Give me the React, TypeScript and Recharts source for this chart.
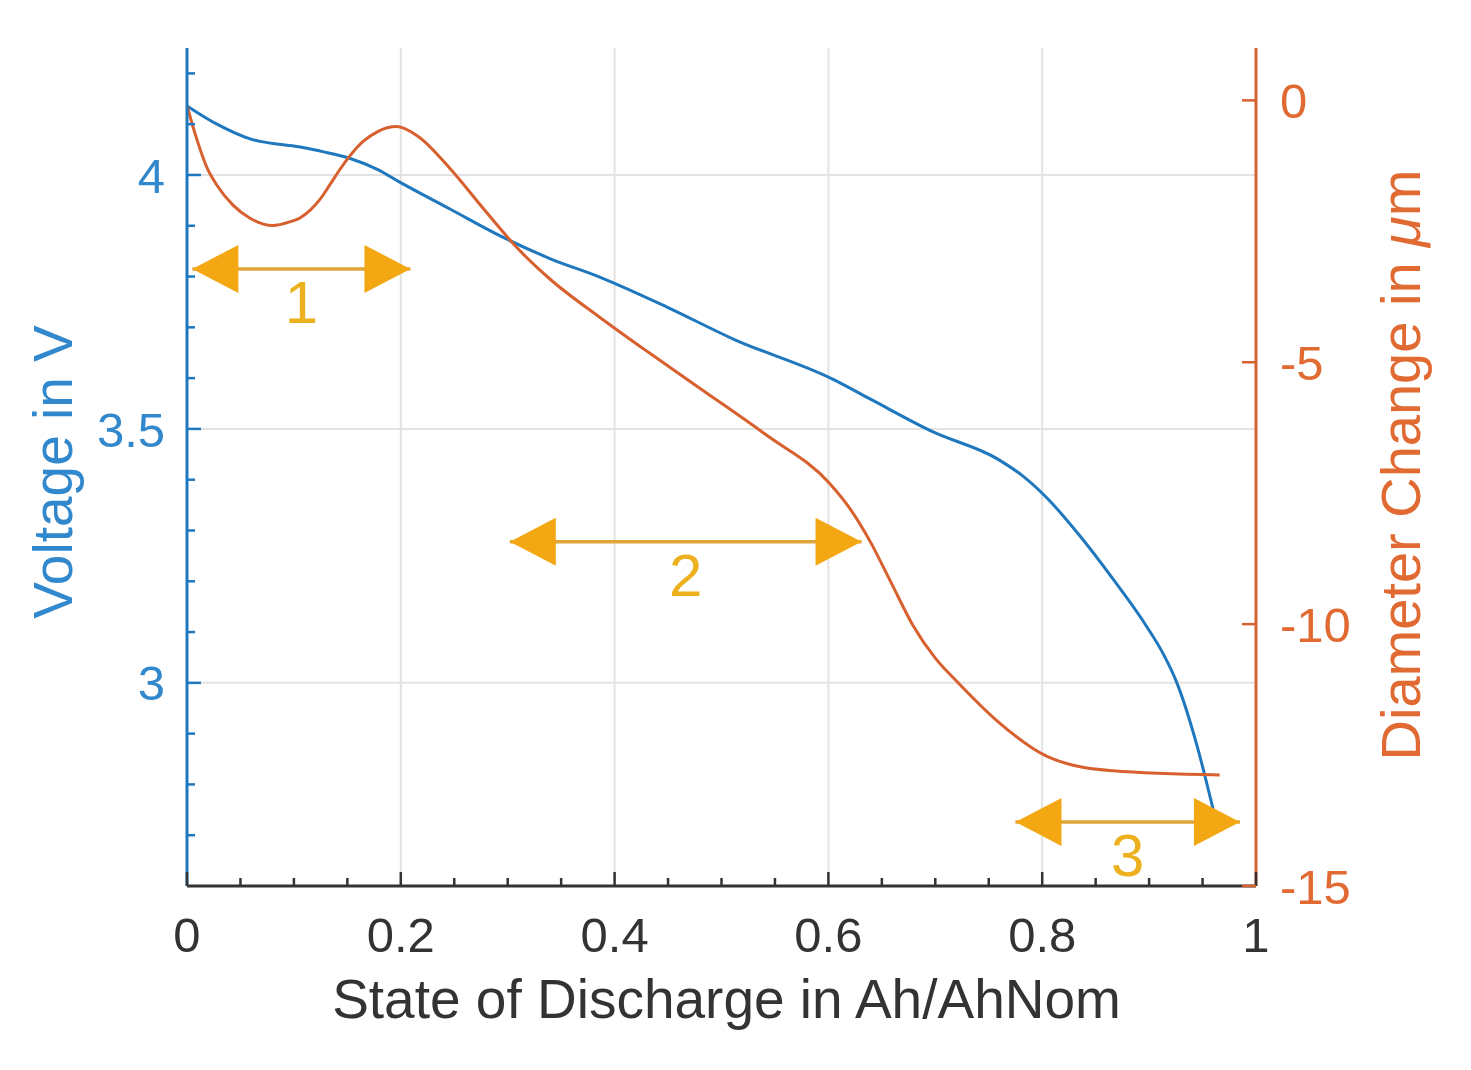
import React from 'react';
import { LineChart, Line, XAxis, YAxis, CartesianGrid, ReferenceLine, ReferenceDot, Label } from 'recharts';

// voltage curve (state of discharge -> V)
const sodVoltage = [0, 0.028, 0.059, 0.106, 0.127, 0.152, 0.178, 0.199, 0.246, 0.293, 0.34, 0.386, 0.449, 0.511, 0.604, 0.639, 0.698, 0.758, 0.782, 0.804, 0.835, 0.866, 0.898, 0.913, 0.926, 0.945, 0.96];
const voltage = [4.136, 4.1, 4.071, 4.055, 4.046, 4.033, 4.011, 3.986, 3.933, 3.88, 3.835, 3.799, 3.74, 3.677, 3.598, 3.559, 3.494, 3.441, 3.407, 3.365, 3.29, 3.205, 3.11, 3.058, 3.0, 2.875, 2.75];

// diameter change curve (state of discharge -> um)
const sodDiameter = [0, 0.009, 0.019, 0.028, 0.043, 0.059, 0.08, 0.096, 0.106, 0.115, 0.124, 0.134, 0.143, 0.152, 0.165, 0.178, 0.196, 0.215, 0.246, 0.277, 0.309, 0.34, 0.386, 0.433, 0.48, 0.542, 0.601, 0.62, 0.639, 0.658, 0.679, 0.7, 0.72, 0.758, 0.804, 0.83, 0.866, 0.966];
const diameter = [-0.1, -0.73, -1.3, -1.62, -2.0, -2.25, -2.39, -2.32, -2.24, -2.1, -1.9, -1.6, -1.32, -1.07, -0.78, -0.6, -0.5, -0.67, -1.3, -2.06, -2.82, -3.42, -4.14, -4.83, -5.5, -6.39, -7.31, -7.79, -8.42, -9.18, -10.02, -10.65, -11.09, -11.85, -12.52, -12.7, -12.8, -12.88];

const xMajorTicks = [0, 0.2, 0.4, 0.6, 0.8, 1];
const xMinorTicks = [0, 0.05, 0.1, 0.15, 0.2, 0.25, 0.3, 0.35, 0.4, 0.45, 0.5, 0.55, 0.6, 0.65, 0.7, 0.75, 0.8, 0.85, 0.9, 0.95, 1];
const vMajorTicks = [3, 3.5, 4];
const vMinorTicks = [2.7, 2.8, 2.9, 3, 3.1, 3.2, 3.3, 3.4, 3.5, 3.6, 3.7, 3.8, 3.9, 4, 4.1, 4.2];
const dTicks = [-15, -10, -5, 0];

// phase arrows
const arrowLabels = ['1', '2', '3'];
const arrowStart = [0.005, 0.302, 0.775];
const arrowEnd = [0.209, 0.631, 0.985];
const arrowLevel = [3.815, 3.278, 2.726];

const voltageData = sodVoltage.map((x, i) => ({ x, v: voltage[i] }));
const diameterData = sodDiameter.map((x, i) => ({ x, d: diameter[i] }));

const FONT = '"Liberation Sans", Arial, Helvetica, sans-serif';
const BLUE = '#1f78be';
const BLUE_TXT = '#3288cc';
const ORANGE = '#d8602f';
const ORANGE_TXT = '#e06a32';
const DARK = '#333333';
const ARROW = '#f3a712';

const BottomTick = ({ x, y, payload }: any) => {
  const major = xMajorTicks.includes(payload.value);
  return (
    <g>
      <line x1={x} x2={x} y1={y} y2={y - (major ? 14 : 8)} stroke={DARK} strokeWidth={2.5} />
      {major && (
        <text x={x} y={y + 66} textAnchor="middle" fontSize={49} fontFamily={FONT} fill={DARK}>
          {payload.value}
        </text>
      )}
    </g>
  );
};

const TopTick = ({ x, y, payload }: any) => {
  const major = xMajorTicks.includes(payload.value);
  return <line x1={x} x2={x} y1={y} y2={y + (major ? 14 : 8)} stroke={DARK} strokeWidth={2.5} />;
};

const LeftTick = ({ x, y, payload }: any) => {
  const major = vMajorTicks.includes(payload.value);
  return (
    <g>
      <line x1={x} x2={x + (major ? 14 : 8)} y1={y} y2={y} stroke={BLUE} strokeWidth={2.5} />
      {major && (
        <text x={x - 22} y={y} dy="0.36em" textAnchor="end" fontSize={49} fontFamily={FONT} fill={BLUE_TXT}>
          {payload.value}
        </text>
      )}
    </g>
  );
};

const RightTick = ({ x, y, payload }: any) => (
  <g>
    <line x1={x} x2={x - 14} y1={y} y2={y} stroke={ORANGE} strokeWidth={2.5} />
    <text x={x + 24} y={y} dy="0.36em" textAnchor="start" fontSize={49} fontFamily={FONT} fill={ORANGE_TXT}>
      {payload.value}
    </text>
  </g>
);

const headLeft = ({ cx, cy }: any) => (
  <polygon points={`${cx},${cy} ${cx + 46},${cy - 24} ${cx + 46},${cy + 24}`} fill={ARROW} />
);
const headRight = ({ cx, cy }: any) => (
  <polygon points={`${cx},${cy} ${cx - 46},${cy - 24} ${cx - 46},${cy + 24}`} fill={ARROW} />
);

export default function App() {
  return (
    <div style={{ position: 'absolute', left: 0, top: 0, width: 1471, height: 1070, background: '#fff' }}>
      <LineChart width={1471} height={1070} margin={{ top: 48, right: 65, bottom: 84, left: 67 }}>
        <CartesianGrid
          xAxisId="bottom"
          yAxisId="v"
          verticalValues={xMajorTicks}
          horizontalValues={vMajorTicks}
          stroke="#e3e3e3"
          strokeWidth={2}
        />
        <XAxis
          xAxisId="bottom"
          dataKey="x"
          type="number"
          domain={[0, 1]}
          allowDataOverflow
          ticks={xMinorTicks}
          interval={0}
          tickLine={false}
          tickSize={0}
          tickMargin={0}
          height={100}
          axisLine={{ stroke: DARK, strokeWidth: 3 }}
          tick={(p: any) => <BottomTick {...p} />}
        >
          <Label
            content={({ viewBox }: any) => (
              <text x={viewBox.x + viewBox.width / 2 + 5} y={viewBox.y + 132} textAnchor="middle" fontSize={55} fontFamily={FONT} fill={DARK}>
                State of Discharge in Ah/AhNom
              </text>
            )}
          />
        </XAxis>
        <XAxis
          xAxisId="top"
          orientation="top"
          dataKey="x"
          type="number"
          domain={[0, 1]}
          allowDataOverflow
          ticks={xMinorTicks}
          interval={0}
          tickLine={false}
          tickSize={0}
          tickMargin={0}
          height={0}
          axisLine={{ stroke: DARK, strokeWidth: 3 }}
          tick={(p: any) => <TopTick {...p} />}
        />
        <YAxis
          yAxisId="v"
          orientation="left"
          type="number"
          domain={[2.6, 4.25]}
          allowDataOverflow
          ticks={vMinorTicks}
          interval={0}
          tickLine={false}
          tickSize={0}
          tickMargin={0}
          width={120}
          axisLine={{ stroke: BLUE, strokeWidth: 3 }}
          tick={(p: any) => <LeftTick {...p} />}
        >
          <Label
            content={({ viewBox }: any) => {
              const x = viewBox.x + 5;
              const y = viewBox.y + viewBox.height / 2 + 5;
              return (
                <text x={x} y={y} transform={`rotate(-90, ${x}, ${y})`} textAnchor="middle" fontSize={55} fontFamily={FONT} fill={BLUE_TXT}>
                  Voltage in V
                </text>
              );
            }}
          />
        </YAxis>
        <YAxis
          yAxisId="d"
          orientation="right"
          type="number"
          domain={[-15, 1]}
          allowDataOverflow
          ticks={dTicks}
          interval={0}
          tickLine={false}
          tickSize={0}
          tickMargin={0}
          width={150}
          axisLine={{ stroke: ORANGE, strokeWidth: 3 }}
          tick={(p: any) => <RightTick {...p} />}
        >
          <Label
            content={({ viewBox }: any) => {
              const x = viewBox.x + 164;
              const y = viewBox.y + viewBox.height / 2 - 2;
              return (
                <text x={x} y={y} transform={`rotate(-90, ${x}, ${y})`} textAnchor="middle" fontSize={56} fontFamily={FONT} fill={ORANGE_TXT}>
                  Diameter Change in <tspan fontStyle="italic">μ</tspan>m
                </text>
              );
            }}
          />
        </YAxis>

        <Line
          data={voltageData}
          dataKey="v"
          xAxisId="bottom"
          yAxisId="v"
          type="monotone"
          stroke={BLUE}
          strokeWidth={3}
          dot={false}
          isAnimationActive={false}
        />
        <Line
          data={diameterData}
          dataKey="d"
          xAxisId="bottom"
          yAxisId="d"
          type="monotone"
          stroke={ORANGE}
          strokeWidth={3}
          dot={false}
          isAnimationActive={false}
        />

        {arrowLabels.map((lab, i) => (
          <ReferenceLine
            key={`shaft-${i}`}
            xAxisId="bottom"
            yAxisId="v"
            segment={[{ x: arrowStart[i], y: arrowLevel[i] }, { x: arrowEnd[i], y: arrowLevel[i] }]}
            stroke="#e0a53a"
            strokeWidth={3.5}
            label={(p: any) => (
              <text x={p.viewBox.x + p.viewBox.width / 2} y={p.viewBox.y + 54} textAnchor="middle" fontSize={60} fontFamily={FONT} fill="#edb120">
                {lab}
              </text>
            )}
          />
        ))}
        {arrowLabels.map((lab, i) => (
          <ReferenceDot key={`hl-${i}`} xAxisId="bottom" yAxisId="v" x={arrowStart[i]} y={arrowLevel[i]} shape={headLeft} />
        ))}
        {arrowLabels.map((lab, i) => (
          <ReferenceDot key={`hr-${i}`} xAxisId="bottom" yAxisId="v" x={arrowEnd[i]} y={arrowLevel[i]} shape={headRight} />
        ))}
      </LineChart>
    </div>
  );
}
